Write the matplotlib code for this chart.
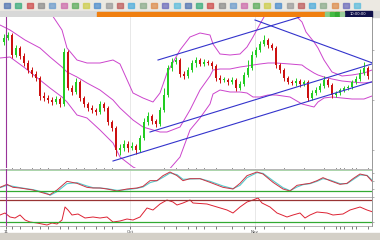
import matplotlib
matplotlib.use("Agg")
import matplotlib.pyplot as plt
from matplotlib.patches import Rectangle
import numpy as np

# candles (price units, one bar per session)
opens = [158, 162, 165, 145, 152, 144, 137, 130, 126, 122,
         104, 102, 100, 98, 101, 96, 148, 112, 108, 118,
         102, 96, 92, 90, 88, 96, 92, 78, 72, 50,
         52, 56, 52, 54, 50, 62, 78, 84, 79, 76,
         90, 105, 132, 138, 140, 126, 124, 130, 137, 140,
         136, 138, 137, 134, 122, 120, 120, 118, 120, 112,
         116, 125, 132, 145, 150, 156, 160, 155, 152, 135,
         130, 122, 118, 117, 119, 116, 118, 102, 107, 110,
         114, 120, 115, 105, 107, 110, 112, 113, 118, 121,
         127, 132]
closes = [162, 165, 145, 152, 144, 137, 130, 126, 122, 104,
          102, 100, 98, 101, 96, 148, 112, 108, 118, 102,
          96, 92, 90, 88, 96, 92, 78, 72, 50, 52,
          56, 52, 54, 50, 62, 78, 84, 79, 76, 90,
          105, 132, 138, 140, 126, 124, 130, 137, 140, 136,
          138, 137, 134, 122, 120, 120, 118, 120, 112, 116,
          125, 132, 145, 150, 156, 160, 155, 152, 135, 130,
          122, 118, 117, 119, 116, 118, 102, 107, 110, 114,
          120, 115, 105, 107, 110, 112, 113, 118, 121, 127,
          132, 124]
highs = [166, 168, 167, 155, 154, 147, 140, 133, 129, 124,
         108, 105, 103, 104, 103, 152, 150, 115, 122, 120,
         104, 98, 95, 92, 99, 98, 94, 80, 74, 56,
         60, 59, 58, 56, 65, 82, 88, 86, 81, 93,
         112, 135, 142, 143, 142, 129, 133, 140, 143, 142,
         141, 140, 139, 136, 125, 123, 122, 123, 122, 119,
         128, 140, 149, 153, 159, 165, 162, 157, 154, 137,
         132, 124, 120, 122, 121, 120, 120, 110, 113, 117,
         124, 122, 117, 109, 112, 114, 115, 120, 124, 131,
         138, 134]
lows = [155, 160, 142, 143, 141, 134, 127, 123, 119, 100,
        99, 97, 95, 96, 93, 94, 110, 105, 106, 99,
        93, 89, 87, 85, 86, 89, 75, 69, 44, 45,
        49, 48, 50, 46, 48, 60, 75, 76, 73, 74,
        88, 103, 129, 136, 123, 121, 122, 128, 133, 134,
        134, 135, 131, 119, 117, 118, 115, 116, 109, 110,
        114, 123, 130, 143, 148, 154, 152, 150, 132, 127,
        119, 116, 115, 114, 113, 114, 99, 100, 105, 108,
        112, 113, 102, 103, 105, 108, 110, 111, 116, 119,
        125, 121]

# bollinger bands, read at bar positions
band_x = [-1, 1.5, 5.25, 9, 11.5, 14.5, 15.75, 18.25, 20.75, 24, 27.25, 29, 32.25,
          34.75, 37.25, 39, 40.75, 44, 46.5, 49, 51.5, 52.25, 54, 56.5, 59, 60.75,
          62.25, 64, 66, 68, 71.5, 74.5, 75.5, 77.5, 78.5, 80, 82, 84.5, 87, 90, 92]
upper = [195, 190, 200, 200, 188, 170, 152, 140, 137, 137, 140, 136, 107,
         102, 98, 107, 127, 150, 163, 167, 165, 156, 146, 145, 146, 153,
         163, 176, 190, 195, 190, 178, 168, 158, 152, 140, 128, 124, 125, 127, 130]
middle = [175, 170, 160, 152, 143, 133, 128, 123, 117, 110, 100, 92, 80,
          73, 70, 68, 68, 73, 90, 110, 124, 130, 131, 131, 133, 134,
          135, 136, 137, 137, 136, 135, 132, 127, 125, 123, 121, 119, 118, 117, 118]
lower = [142, 143, 132, 120, 112, 103, 98, 85, 82, 70, 57, 43, 33,
         28, 25, 25, 28, 43, 70, 82, 96, 106, 110, 108, 108, 107,
         103, 103, 105, 105, 103, 96, 95, 93, 98, 102, 103, 102, 101, 101, 104]

# trend lines: (start bar, start price, end bar, end price)
trend_lines = [(38.5, 140, 74, 183),
               (62.75, 180, 93.5, 135),
               (36.5, 68, 92.75, 137),
               (27.25, 39, 93.5, 120)]

# stochastic panel
stoch_x = [-1, 0.75, 2.25, 4, 7.25, 9, 10.75, 11.5, 13.25, 15.75, 18.25, 20.75, 22.25,
           24, 25.75, 28.25, 30.75, 33.25, 34.75, 36.5, 38.25, 39.75, 41.5, 43.25,
           44.75, 46.5, 49, 51.5, 54.75, 57.25, 59, 60.75, 63.25, 64.75, 67.25,
           69.75, 71.5, 73.25, 74.75, 76.5, 78.25, 79.75, 81.5, 84, 85.75, 87.25,
           89, 90.75, 92.25]
stoch_main = [31, 40, 31, 29, 23, 17, 11, 9, 23, 49, 43, 31, 29,
              29, 26, 20, 26, 29, 34, 51, 51, 66, 77, 66,
              51, 57, 57, 46, 31, 26, 43, 66, 77, 71, 46,
              26, 20, 37, 40, 43, 51, 60, 51, 40, 43, 57,
              71, 66, 46]
stoch_signal = [30, 37, 34, 30, 24, 19, 13, 7, 18, 42, 45, 35, 30,
                29, 27, 22, 24, 28, 32, 45, 51, 61, 74, 69,
                55, 56, 57, 49, 35, 27, 37, 60, 75, 73, 51,
                30, 21, 32, 39, 42, 49, 57, 53, 42, 42, 54,
                68, 67, 50]

# lower oscillator panel
osc_x = [-1, 0.25, 1.5, 2.75, 4, 5.25, 6.5, 8.25, 10.75, 12, 13.25, 14.5, 15.25,
         16, 17, 18.5, 20.25, 22.25, 24, 25.75, 27.25, 29, 30.75, 32.25, 34,
         35.75, 37.25, 39, 40.75, 42.25, 43.25, 44.75, 46.5, 47.25, 50.75, 53.25,
         55.75, 57.25, 59, 60.75, 62.25, 63.5, 64.5, 66.5, 68.25, 70.75, 72.25,
         74, 75.25, 76.5, 78.25, 80.75, 82.25, 84.75, 86.5, 89, 90.75, 92.25]
osc = [7, 9, 5, 4, 7, 2, 0, -1, -3, -1, -2, 2, 15,
       12, 7, 8, 4, 5, 4, 5, 0, 1, 3, 2, 5,
       14, 12, 18, 22, 20, 17, 19, 22, 19, 18, 15,
       12, 9, 15, 20, 22, 24, 19, 15, 9, 5, 7,
       9, 4, 7, 10, 9, 7, 8, 12, 15, 12, 10]

date_ticks = [0.5, 31.5, 62.75]
date_labels = ["11", "Oct", "Nov"]
minor_ticks = [2, 4, 7, 9, 11, 14, 16, 18, 20, 23, 25, 27, 40, 43, 46, 48, 50, 53,
               57, 60, 65, 70, 75, 80, 83, 84, 85, 87, 88, 91]

W, H = 380, 240
fig = plt.figure(figsize=(W / 100, H / 100), dpi=100)
fig.patch.set_facecolor("white")


def box(x0, y0, x1, y1):
    # pixel box (top-left origin) -> figure fraction
    return [x0 / W, 1 - y1 / H, (x1 - x0) / W, (y1 - y0) / H]


# window chrome
bg = fig.add_axes([0, 0, 1, 1])
bg.set_xlim(0, W)
bg.set_ylim(H, 0)
bg.axis("off")
bg.add_patch(Rectangle((0, 0), W, 11, color="#ece9e2"))
bg.add_patch(Rectangle((0, 11), W, 6, color="#d8d8d8"))
bg.add_patch(Rectangle((97, 11.5), 270, 5, color="#f07f10"))
bg.add_patch(Rectangle((345, 11), 27, 6, color="#10104a"))
bg.text(358, 14, "10:00:00", color="white", fontsize=2.6, ha="center", va="center")
icon_cols = ["#4a6fb0", "#3a7", "#c44", "#888", "#69c", "#c6a", "#5a5", "#cc4", "#48c",
             "#999", "#b55", "#4ad", "#8a8", "#d84", "#66b", "#5bd"]
for k, c in enumerate(icon_cols * 2):
    bg.add_patch(Rectangle((4 + k * 11.3, 3), 6, 5, color=c, alpha=0.7))
for k, c in enumerate(["#8c8", "#4b4", "#3a3", "#9c9"]):
    bg.add_patch(Rectangle((325 + k * 5, 12), 4, 4, color=c))
bg.add_patch(Rectangle((0, 233), W, 7, color="#d4d0c8"))

panels = [box(0, 17, 372, 168), box(0, 169, 372, 197), box(0, 197, 372, 226)]
ax = fig.add_axes(panels[0])
ax1 = fig.add_axes(panels[1], sharex=ax)
ax2 = fig.add_axes(panels[2], sharex=ax)

x = np.arange(len(closes))
o = np.array(opens)
c = np.array(closes)
up = c >= o
cols = np.where(up, "#22cc22", "#cc1111")
ax.vlines(x, lows, highs, colors=cols, linewidth=0.7, zorder=3)
ax.bar(x, np.maximum(np.abs(c - o), 1.2), bottom=np.minimum(o, c), width=0.62,
       color=cols, linewidth=0, zorder=4)

ax.plot(band_x, upper, color="#cc44cc", lw=0.7, zorder=2)
ax.plot(band_x, middle, color="#cc44cc", lw=0.7, zorder=2)
ax.plot(band_x, lower, color="#cc44cc", lw=0.7, zorder=2)
for x0, y0, x1, y1 in trend_lines:
    ax.plot([x0, x1], [y0, y1], color="#3333cc", lw=0.8, zorder=5)

ax1.plot(stoch_x, stoch_signal, color="#55cccc", lw=0.8)
ax1.plot(stoch_x, stoch_main, color="#cc3344", lw=0.7)
ax1.axhline(82, color="#aad4aa", lw=0.7)
ax1.axhline(20, color="#33aa33", lw=0.9)
ax1.set_ylim(2, 86)

ax2.plot(osc_x, osc, color="#dd2233", lw=0.7)
ax2.axhline(22, color="#993333", lw=0.9)
ax2.axhline(0, color="#33aa33", lw=0.9)
ax2.set_ylim(-4, 25)

ax.set_xlim(-1, 92)
ax.set_ylim(32, 183)

for a in (ax, ax1, ax2):
    a.set_facecolor("white")
    for xv in date_ticks[1:]:
        a.axvline(xv, color="#e4e4e4", lw=0.6, zorder=0)
    a.axvline(0.5, color="#993399", lw=0.8, zorder=6)
    a.yaxis.set_ticks_position("right")
    a.tick_params(axis="y", which="both", left=False, right=True, labelleft=False,
                  labelright=False, length=1.5, width=0.4, colors="#777777")
    a.tick_params(axis="x", bottom=False, labelbottom=False)
    for s in ("top", "left", "bottom"):
        a.spines[s].set_visible(False)
    a.spines["right"].set_color("#888888")
    a.spines["right"].set_linewidth(0.6)

for a in (ax1, ax2):
    a.spines["top"].set_visible(True)
    a.spines["top"].set_color("#999999")
    a.spines["top"].set_linewidth(0.5)
ax2.spines["bottom"].set_visible(True)
ax2.spines["bottom"].set_color("#999999")
ax2.spines["bottom"].set_linewidth(0.5)

ax2.set_xticks(date_ticks)
ax2.set_xticklabels(date_labels)
ax2.set_xticks(minor_ticks, minor=True)
ax2.tick_params(axis="x", which="both", bottom=True, labelbottom=True, length=2,
                width=0.5, colors="#444444", labelsize=3, pad=1)

fig.savefig("out.png", dpi=100)
